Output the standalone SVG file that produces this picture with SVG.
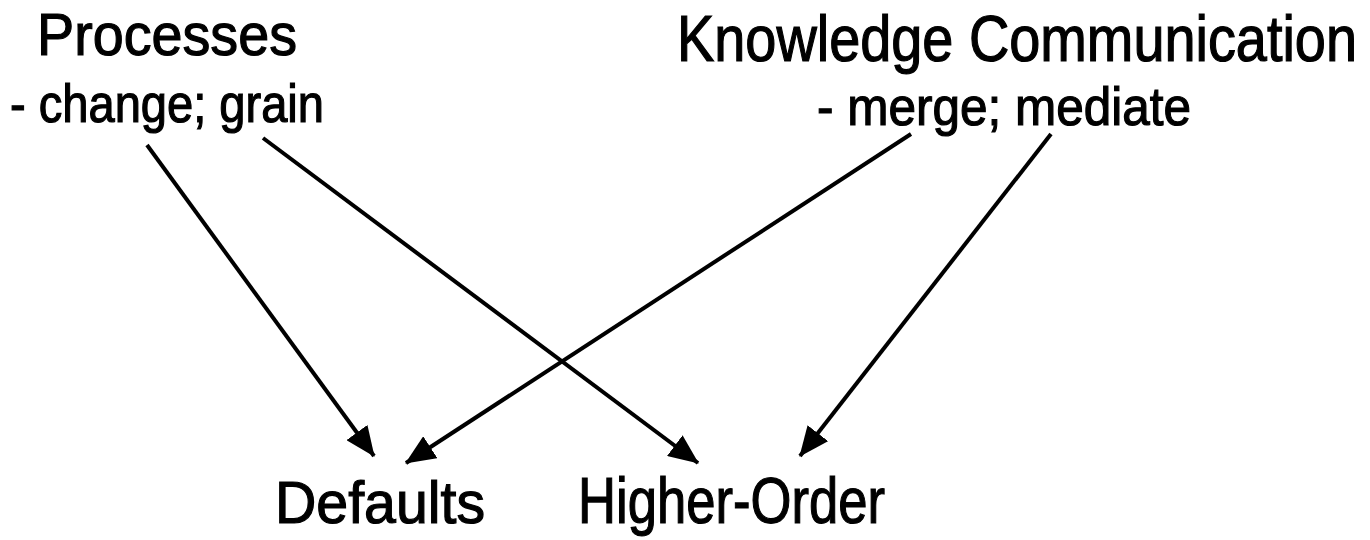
<svg xmlns="http://www.w3.org/2000/svg" width="1370" height="540" viewBox="0 0 1370 540">
<style>
text{font-family:"Liberation Sans",Arial,sans-serif;fill:#000;stroke:#000;stroke-width:1.2;}
.t{font-size:60px;}
.k{font-size:64px;}
.s{font-size:54px;}
.c{stroke:#000;stroke-width:4;fill:none;marker-end:url(#ah);}
</style>
<defs>
<marker id="ah" markerUnits="userSpaceOnUse" markerWidth="30" markerHeight="26" refX="29" refY="13" orient="auto" viewBox="0 0 30 26">
<path d="M0,0 L30,13 L0,26 Z" fill="#000"/>
</marker>
</defs>
<rect width="1370" height="540" fill="#fff"/>
<g id="processes"><text class="t" x="37" y="55" textLength="260" lengthAdjust="spacingAndGlyphs">Processes</text><text class="s" x="10" y="122" textLength="314" lengthAdjust="spacingAndGlyphs">- change; grain</text></g>
<g id="knowledge"><text class="k" x="677" y="61" textLength="680" lengthAdjust="spacingAndGlyphs">Knowledge Communication</text><text class="s" x="817" y="125" textLength="374" lengthAdjust="spacingAndGlyphs">- merge; mediate</text></g>
<g id="defaults"><text class="t" x="275" y="523" textLength="210" lengthAdjust="spacingAndGlyphs">Defaults</text></g>
<g id="higher-order"><text class="k" x="578" y="523" textLength="307" lengthAdjust="spacingAndGlyphs">Higher-Order</text></g>
<g id="connectors">
<line class="c" x1="147" y1="145" x2="374" y2="456"/>
<line class="c" x1="263" y1="138" x2="698" y2="463"/>
<line class="c" x1="911" y1="134" x2="406" y2="463"/>
<line class="c" x1="1051" y1="134" x2="800" y2="456"/>
</g>
</svg>
